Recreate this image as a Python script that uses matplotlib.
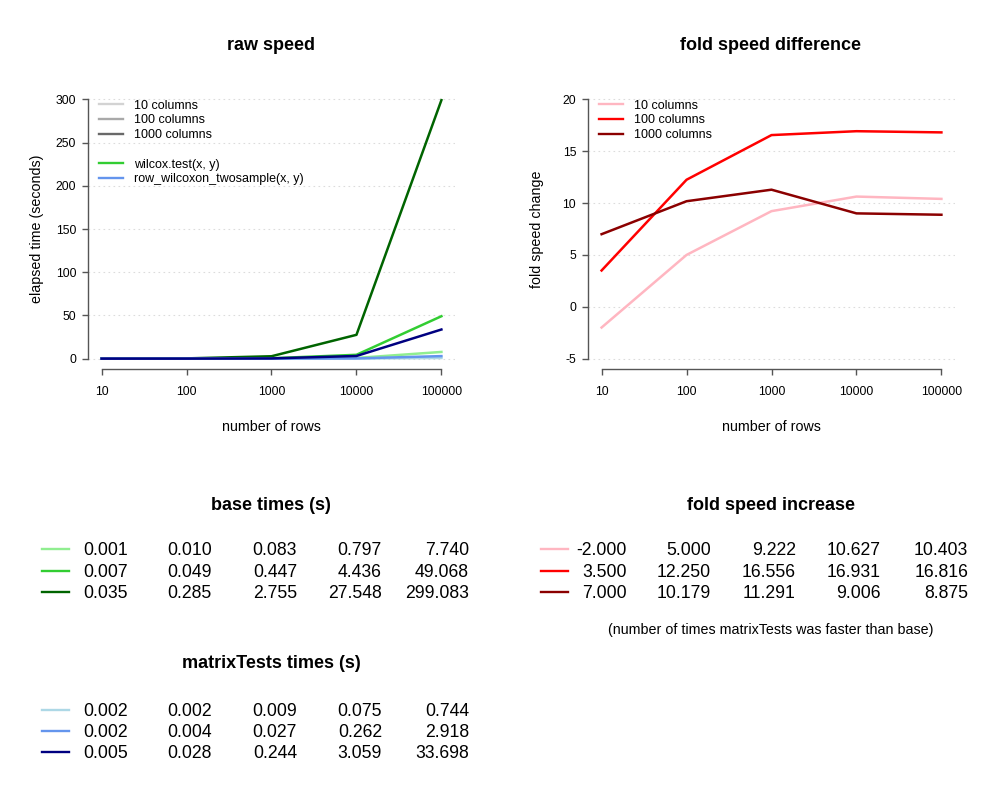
import numpy as np
import matplotlib
matplotlib.use("Agg")
import matplotlib.pyplot as plt
from matplotlib.lines import Line2D
from matplotlib.ticker import NullLocator

plt.rcParams['font.family'] = ['Liberation Sans', 'DejaVu Sans']

# donnees
rows = [10, 100, 1000, 10000, 100000]

base_10 = [0.001, 0.010, 0.083, 0.797, 7.740]
base_100 = [0.007, 0.049, 0.447, 4.436, 49.068]
base_1000 = [0.035, 0.285, 2.755, 27.548, 299.083]

mt_10 = [0.002, 0.002, 0.009, 0.075, 0.744]
mt_100 = [0.002, 0.004, 0.027, 0.262, 2.918]
mt_1000 = [0.005, 0.028, 0.244, 3.059, 33.698]

fold_10 = [-2.000, 5.000, 9.222, 10.627, 10.403]
fold_100 = [3.500, 12.250, 16.556, 16.931, 16.816]
fold_1000 = [7.000, 10.179, 11.291, 9.006, 8.875]

col_labels = ["10 columns", "100 columns", "1000 columns"]
base_cols = ["#90EE90", "#32CD32", "#006400"]
mt_cols = ["#ADD8E6", "#6495ED", "#000080"]
fold_cols = ["#FFB6C1", "#FF0000", "#8B0000"]
grey_cols = ["#D3D3D3", "#A9A9A9", "#696969"]

W, H = 1000, 800
fig = plt.figure(figsize=(10, 8), dpi=100)


def px_rect(x0, y0, x1, y1):
    return [x0 / W, 1 - y1 / H, (x1 - x0) / W, (y1 - y0) / H]


def style_axis(ax, yticks, ylim):
    ax.set_xscale('log')
    ax.set_xlim(10 ** 0.84, 10 ** 5.16)
    ax.set_ylim(*ylim)
    for s in ['top', 'right']:
        ax.spines[s].set_visible(False)
    for s in ['left', 'bottom']:
        ax.spines[s].set_color('#555555')
        ax.spines[s].set_linewidth(1)
    ax.spines['left'].set_bounds(yticks[0], yticks[-1])
    ax.spines['bottom'].set_bounds(rows[0], rows[-1])
    ax.set_xticks(rows)
    ax.set_xticklabels([str(r) for r in rows])
    ax.xaxis.set_minor_locator(NullLocator())
    ax.set_yticks(yticks)
    ax.set_yticklabels([str(t) for t in yticks])
    ax.tick_params(axis='both', colors='#555555', labelcolor='black',
                   length=4.5, width=1, labelsize=8.8)
    ax.tick_params(axis='x', pad=8)
    ax.tick_params(axis='y', pad=4)
    ax.patch.set_visible(False)
    for yt in yticks:
        ax.axhline(yt, color='#dcdcdc', lw=0.8, ls=(0, (1.5, 3)), zorder=0)


# ------------ raw speed
ax1 = fig.add_axes(px_rect(88, 89, 455, 369))
style_axis(ax1, [0, 50, 100, 150, 200, 250, 300], (-12, 312))
for vals, c in zip([base_10, base_100, base_1000], base_cols):
    ax1.plot(rows, vals, color=c, lw=1.8)
for vals, c in zip([mt_10, mt_100, mt_1000], mt_cols):
    ax1.plot(rows, vals, color=c, lw=1.8)

handles = [Line2D([], [], color=c, lw=1.7) for c in grey_cols]
handles += [Line2D([], [], color='none')]
handles += [Line2D([], [], color="#32CD32", lw=1.7), Line2D([], [], color="#6495ED", lw=1.7)]
labels = col_labels + [" ", "wilcox.test(x, y)", "row_wilcoxon_twosample(x, y)"]
ax1.legend(handles, labels, loc='upper left', bbox_to_anchor=(0.03, 0.962),
           frameon=False, fontsize=9, handlelength=1.9, handletextpad=0.9,
           labelspacing=0.22, borderpad=0, borderaxespad=0)

# ------------ fold speed difference
ax2 = fig.add_axes(px_rect(588, 89, 955, 369))
style_axis(ax2, [-5, 0, 5, 10, 15, 20], (-6, 21))
for vals, c in zip([fold_10, fold_100, fold_1000], fold_cols):
    ax2.plot(rows, vals, color=c, lw=1.8)
handles = [Line2D([], [], color=c, lw=1.7) for c in fold_cols]
ax2.legend(handles, col_labels, loc='upper left', bbox_to_anchor=(0.03, 0.962),
           frameon=False, fontsize=9, handlelength=1.9, handletextpad=0.9,
           labelspacing=0.22, borderpad=0, borderaxespad=0)

# titres et labels
fig.text(271 / W, 1 - 45 / H, "raw speed", ha='center', va='center', fontsize=13, fontweight='bold')
fig.text(771 / W, 1 - 45 / H, "fold speed difference", ha='center', va='center', fontsize=13, fontweight='bold')
fig.text(271 / W, 1 - 427 / H, "number of rows", ha='center', va='center', fontsize=10.3)
fig.text(771 / W, 1 - 427 / H, "number of rows", ha='center', va='center', fontsize=10.3)
fig.text(37 / W, 1 - 229 / H, "elapsed time (seconds)", ha='center', va='center', rotation=90, fontsize=10.3)
fig.text(537 / W, 1 - 229 / H, "fold speed change", ha='center', va='center', rotation=90, fontsize=10.3)

# ------------ tableaux
tab = fig.add_axes([0, 0, 1, 1])
tab.set_xlim(0, W)
tab.set_ylim(H, 0)
tab.axis('off')


def draw_table(x_off, y_rows, series, colors):
    col_right = [128, 212, 297, 382, 469]
    for yr, vals, c in zip(y_rows, series, colors):
        tab.plot([x_off + 42, x_off + 69], [yr, yr], color=c, lw=1.7)
        for xr, v in zip(col_right, vals):
            tab.text(x_off + xr, yr + 6.3, f"{v:.3f}", ha='right', va='baseline', fontsize=12.7)


tab.text(271, 505, "base times (s)", ha='center', va='center', fontsize=13, fontweight='bold')
draw_table(0, [549, 571, 592], [base_10, base_100, base_1000], base_cols)

tab.text(271, 663, "matrixTests times (s)", ha='center', va='center', fontsize=13, fontweight='bold')
draw_table(0, [710, 731, 752], [mt_10, mt_100, mt_1000], mt_cols)

tab.text(771, 505, "fold speed increase", ha='center', va='center', fontsize=13, fontweight='bold')
draw_table(499, [549, 571, 592], [fold_10, fold_100, fold_1000], fold_cols)
tab.text(771, 630, "(number of times matrixTests was faster than base)", ha='center', va='center', fontsize=10.3)

fig.savefig("out.png", dpi=100)
